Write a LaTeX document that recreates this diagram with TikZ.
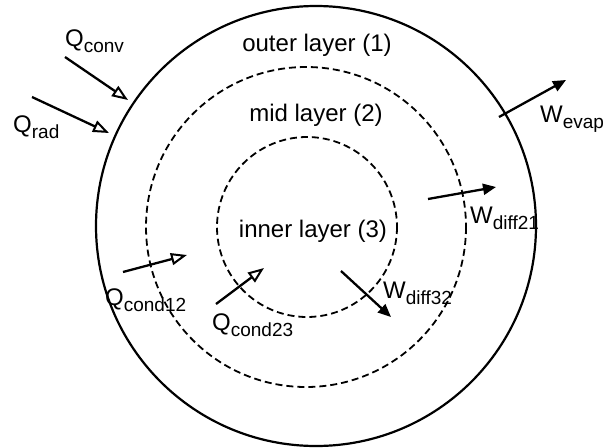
\documentclass[tikz,border=0pt]{standalone}
\usepackage{fontspec}
\setmainfont{Liberation Sans}
\usetikzlibrary{arrows.meta}
\newcommand{\lowtext}[1]{\raisebox{-6.5pt}{\fontsize{19}{20}\selectfont #1}}
\tikzset{
  lbl/.style={inner sep=0pt, font=\fontsize{24}{28}\selectfont},
  layer/.style={draw, line width=1.8pt, dash pattern=on 7pt off 4pt},
  flowopen/.style={line width=2.3pt, -{Triangle[open, length=16pt, width=12pt, line width=2pt]}},
  flowsolid/.style={line width=2.3pt, -{Triangle[length=13pt, width=11pt]}}
}
\begin{document}
\begin{tikzpicture}[x=1pt, y=-1pt]
\useasboundingbox (0,0) rectangle (610,447);
% body and its layers
\draw[line width=2.2pt] (316,226) circle[radius=220];
\draw[layer] (306,227) circle[radius=160];
\draw[layer] (307,227) circle[radius=90];
% layer names
\node[lbl, anchor=base] (outer) at (317,51) {outer layer (1)};
\node[lbl, anchor=base] (mid) at (316,121) {mid layer (2)};
\node[lbl, anchor=base] (inner) at (313,237) {inner layer (3)};
% arrow end points
\coordinate (cs) at (65,57);   \coordinate (ce) at (128,100);
\coordinate (rs) at (32,97);   \coordinate (re) at (109,133);
\coordinate (es) at (499,117); \coordinate (ee) at (566,80);
\coordinate (d1s) at (428,199); \coordinate (d1e) at (496,187);
\coordinate (d3s) at (341,271); \coordinate (d3e) at (391,317);
\coordinate (c1s) at (123,272); \coordinate (c1e) at (187,255);
\coordinate (c2s) at (216,304); \coordinate (c2e) at (264,268);
% heat and water flows
\draw[flowopen] (cs) -- (ce);
\draw[flowopen] (rs) -- (re);
\draw[flowopen] (c1s) -- (c1e);
\draw[flowopen] (c2s) -- (c2e);
\draw[flowsolid] (es) -- (ee);
\draw[flowsolid] (d1s) -- (d1e);
\draw[flowsolid] (d3s) -- (d3e);
% flow labels
\node[lbl, anchor=base west] (qconv) at (65,46) {Q\lowtext{conv}};
\node[lbl, anchor=base west] (qrad) at (13,132) {Q\lowtext{rad}};
\node[lbl, anchor=base west] (wevap) at (540,122) {W\lowtext{evap}};
\node[lbl, anchor=base west] (wd21) at (470,223) {W\lowtext{diff21}};
\node[lbl, anchor=base west] (wd32) at (383,298) {W\lowtext{diff32}};
\node[lbl, anchor=base west] (qc12) at (105,305) {Q\lowtext{cond12}};
\node[lbl, anchor=base west] (qc23) at (212,330) {Q\lowtext{cond23}};
\end{tikzpicture}
\end{document}
